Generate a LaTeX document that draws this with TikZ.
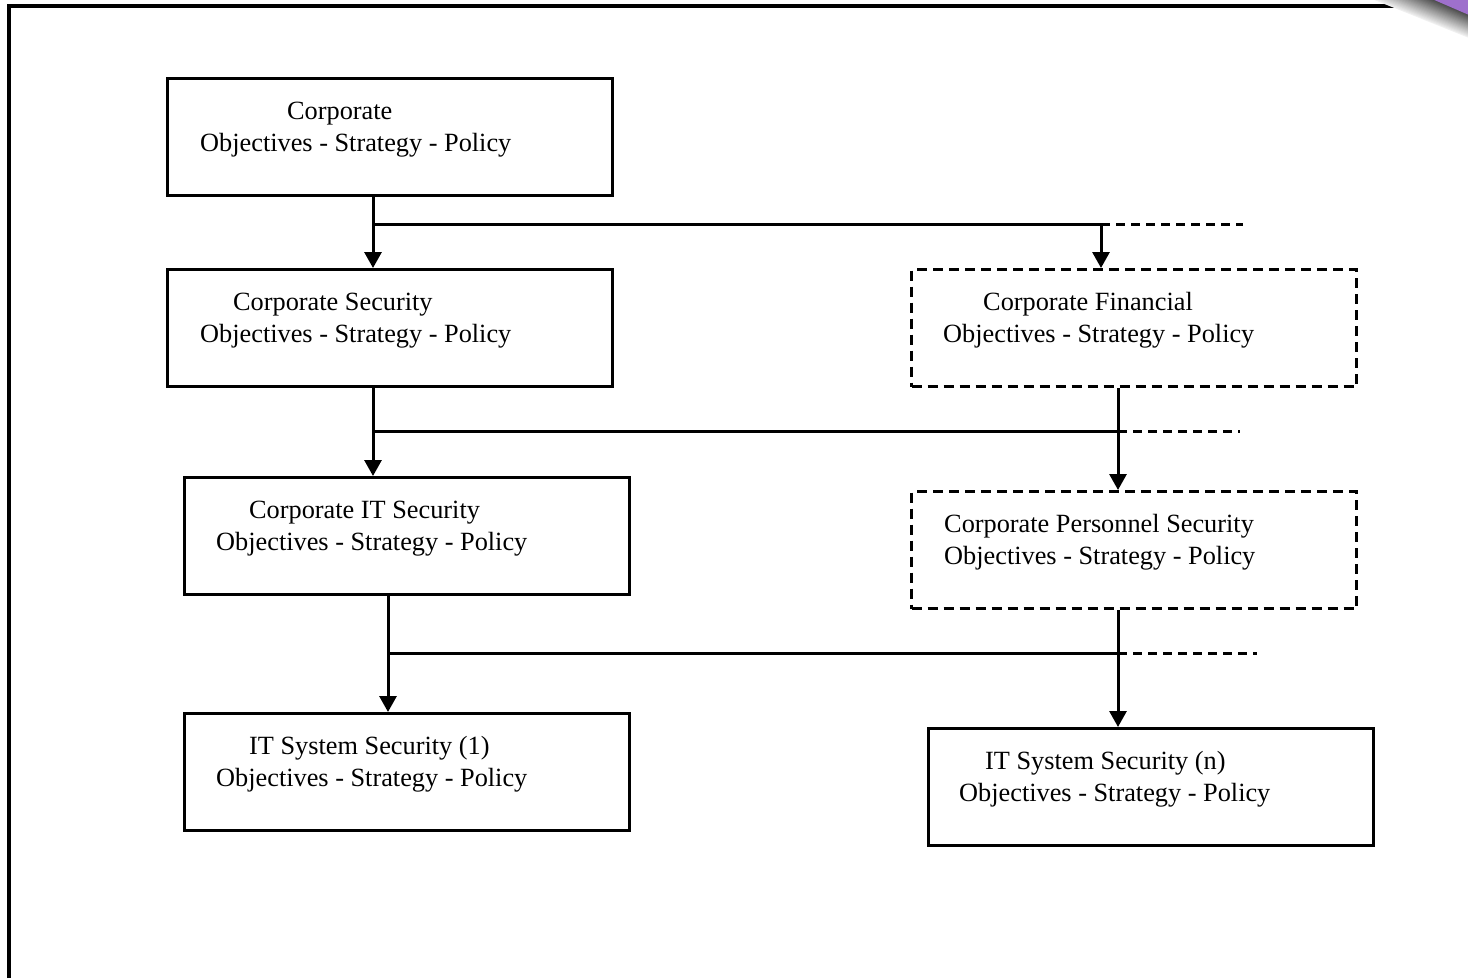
\documentclass[tikz,border=0pt]{standalone}
\usepackage{fontspec}
\setmainfont{Liberation Serif}
\usetikzlibrary{arrows.meta,calc}

\definecolor{curlpurple}{RGB}{158,112,204}

\tikzset{
  stage/.style={draw, line width=3pt, rectangle, anchor=north west, inner sep=0pt,
                minimum width=445pt, minimum height=117pt},
  optional/.style={stage, dash pattern=on 10pt off 6pt},
  txt/.style={anchor=base west, inner sep=0pt, font=\fontsize{26.3}{32}\selectfont},
  link/.style={line width=3pt},
  flow/.style={link, -{Triangle[length=16pt,width=17pt]}},
  openend/.style={link, dash pattern=on 9pt off 6pt}
}

\begin{document}
\begin{tikzpicture}[x=1pt,y=-1pt]
  \useasboundingbox (0,0) rectangle (1468,978);

  % page frame
  \draw[line width=4pt] (9,978) -- (9,6) -- (1440,6);

  % curled corner: shadow bands then the turned-over flap
  \foreach \t in {0,0.05,...,1.0001}{
    \pgfmathsetmacro{\shade}{6+66*\t}
    \fill[black!\shade!white] (1372+60*\t,-1) -- (1469,-1) -- (1469,38-23*\t) -- cycle;
  }
  \fill[curlpurple] (1432,-1) -- (1469,-1) -- (1469,15) -- cycle;

  % boxes
  \node[stage]    (b1) at (166,77)  {};
  \node[stage]    (b2) at (166,268) {};
  \node[optional] (b3) at (910,268) {};
  \node[stage]    (b4) at (183,476) {};
  \node[optional] (b5) at (910,490) {};
  \node[stage]    (b6) at (183,712) {};
  \node[stage]    (b7) at (927,727) {};

  % box texts
  \node[txt] (t1a) at ($(b1.north west)+(121,42)$) {Corporate};
  \node[txt] (t1b) at ($(b1.north west)+(34,74)$)  {Objectives - Strategy - Policy};
  \node[txt] (t2a) at ($(b2.north west)+(67,42)$)  {Corporate Security};
  \node[txt] (t2b) at ($(b2.north west)+(34,74)$)  {Objectives - Strategy - Policy};
  \node[txt] (t3a) at ($(b3.north west)+(73,42)$)  {Corporate Financial};
  \node[txt] (t3b) at ($(b3.north west)+(33,74)$)  {Objectives - Strategy - Policy};
  \node[txt] (t4a) at ($(b4.north west)+(66,42)$)  {Corporate IT Security};
  \node[txt] (t4b) at ($(b4.north west)+(33,74)$)  {Objectives - Strategy - Policy};
  \node[txt] (t5a) at ($(b5.north west)+(34,42)$)  {Corporate Personnel Security};
  \node[txt] (t5b) at ($(b5.north west)+(34,74)$)  {Objectives - Strategy - Policy};
  \node[txt] (t6a) at ($(b6.north west)+(66,42)$)  {IT System Security (1)};
  \node[txt] (t6b) at ($(b6.north west)+(33,74)$)  {Objectives - Strategy - Policy};
  \node[txt] (t7a) at ($(b7.north west)+(58,42)$)  {IT System Security (n)};
  \node[txt] (t7b) at ($(b7.north west)+(32,74)$)  {Objectives - Strategy - Policy};

  % branch points of the three distribution lines
  \coordinate (j1) at (373,224);  \coordinate (k1) at (1101,224); \coordinate (e1) at (1243,224);
  \coordinate (j2) at (373,431);  \coordinate (k2) at (1118,431); \coordinate (e2) at (1240,431);
  \coordinate (j3) at (388,653);  \coordinate (k3) at (1118,653); \coordinate (e3) at (1257,653);

  % level 1 -> level 2
  \draw[flow] (b1.south -| j1) -- (b2.north -| j1);
  \draw[link] (j1) -- (k1);
  \draw[openend] (k1) -- (e1);
  \draw[flow] (k1) -- (b3.north -| k1);

  % level 2 -> level 3
  \draw[flow] (b2.south -| j2) -- (b4.north -| j2);
  \draw[link] (j2) -- (k2);
  \draw[openend] (k2) -- (e2);
  \draw[flow] (b3.south -| k2) -- (b5.north -| k2);

  % level 3 -> systems
  \draw[flow] (b4.south -| j3) -- (b6.north -| j3);
  \draw[link] (j3) -- (k3);
  \draw[openend] (k3) -- (e3);
  \draw[flow] (b5.south -| k3) -- (b7.north -| k3);
\end{tikzpicture}
\end{document}
